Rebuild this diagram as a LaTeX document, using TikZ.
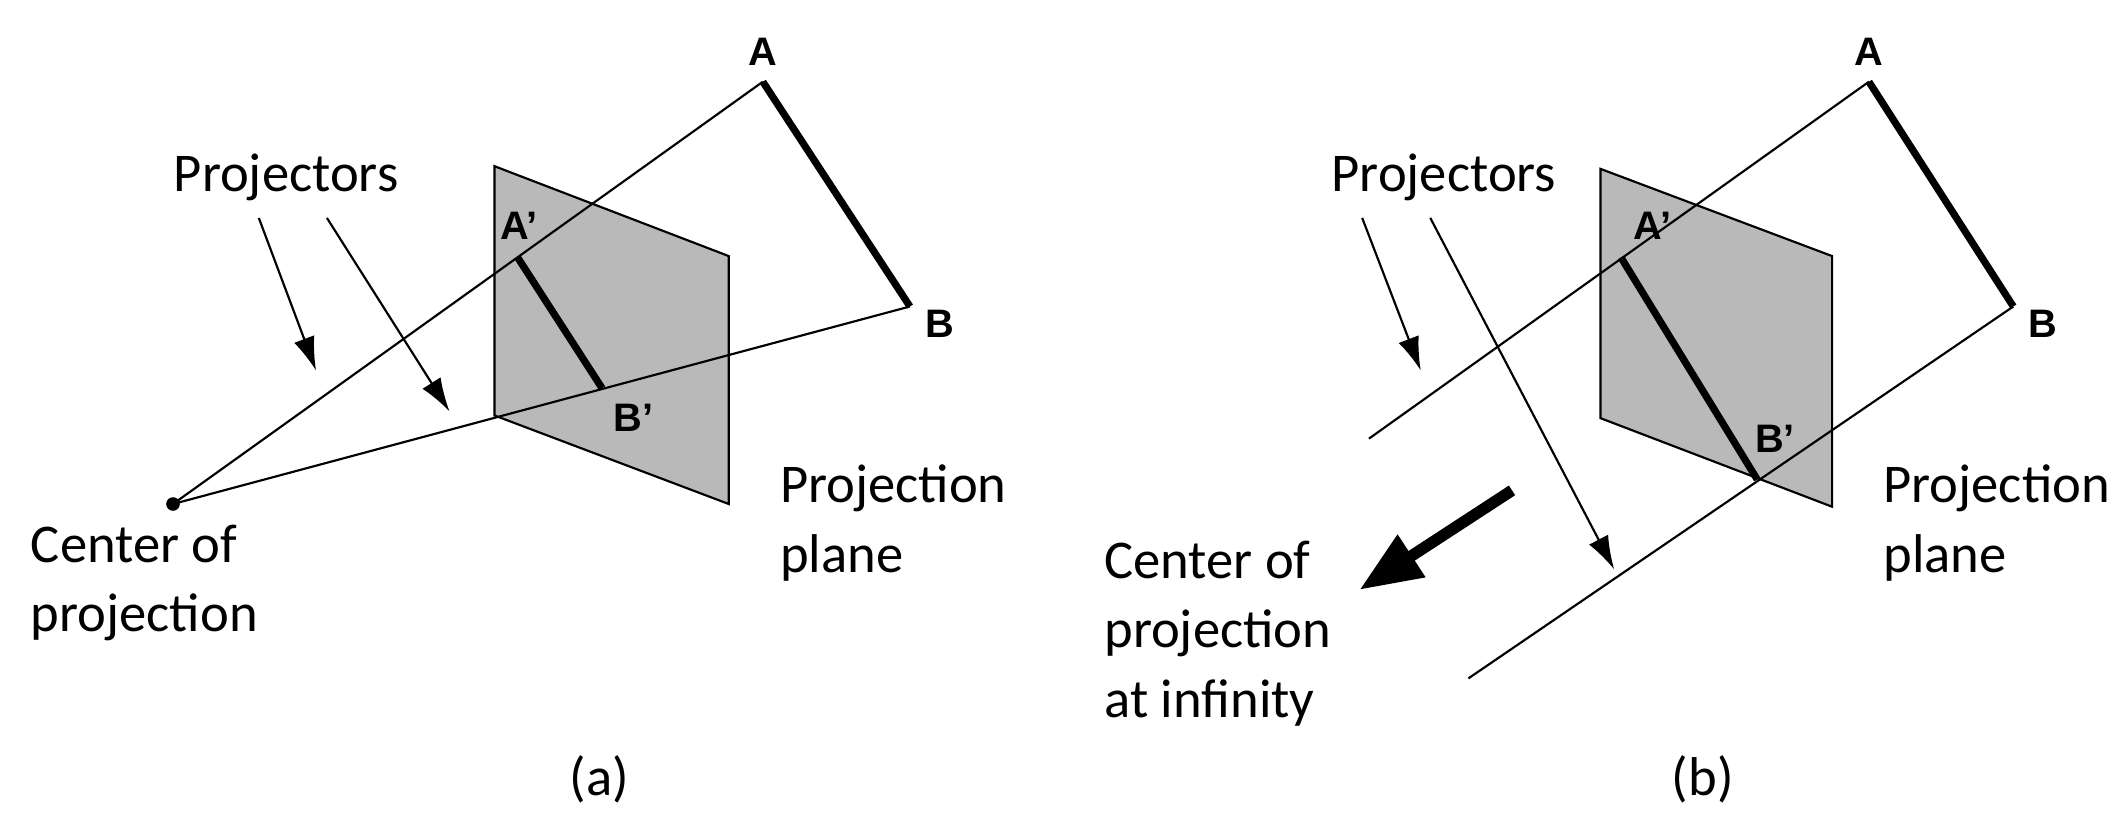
\documentclass[tikz,border=0pt]{standalone}
\usetikzlibrary{arrows.meta}
\usepackage{fontspec}
\setmainfont{Carlito}
\newfontfamily\arialf{Liberation Sans}
\begin{document}
\begin{tikzpicture}[x=0.01cm,y=-0.01cm,
 lbl/.style={font=\fontsize{11.4}{14.5}\selectfont,inner sep=0},
 pt/.style={font=\arialf\bfseries\fontsize{8.3}{9}\selectfont,inner sep=0},
 thin/.style={line width=0.45pt},
 seg/.style={line width=1.5pt},
 arr/.style={thin,-{Latex[length=7pt,width=4.5pt]}}]
\useasboundingbox (0,0) rectangle (1560,600);
% (a)
\fill[gray!55] (363,122) -- (535,188) -- (535,370) -- (363,305) -- cycle;
\draw[thin] (363,122) -- (535,188) -- (535,370) -- (363,305) -- cycle;
\coordinate (C) at (127,370);
\coordinate (A) at (560,60);
\coordinate (B) at (668,225);
\coordinate (Ap) at (380,189);
\coordinate (Bp) at (442,285);
\draw[thin] (C) -- (A);
\draw[thin] (C) -- (B);
\draw[seg] (A) -- (B);
\draw[seg] (Ap) -- (Bp);
\fill (C) circle (5);
\node[pt] (lA) at (560,38) {A};
\node[pt] (lB) at (690,238) {B};
\node[pt] (lAp) at (381,166) {A’};
\node[pt] (lBp) at (465,307) {B’};
\node[lbl] (proj) at (210,130) {Projectors};
\coordinate (p1s) at (190,160); \coordinate (p1e) at (232,272);
\coordinate (p2s) at (240,160); \coordinate (p2e) at (330,302);
\draw[arr] (p1s) -- (p1e);
\draw[arr] (p2s) -- (p2e);
\node[lbl,align=left,anchor=west] (cop) at (22,428) {Center of\\projection};
\node[lbl,align=left,anchor=west] (pp) at (572,384) {Projection\\plane};
\node[lbl] (la) at (440,572) {(a)};
% (b)
\fill[gray!55] (1175,124) -- (1345,188) -- (1345,372) -- (1175,307) -- cycle;
\draw[thin] (1175,124) -- (1345,188) -- (1345,372) -- (1175,307) -- cycle;
\coordinate (A2) at (1372,60);
\coordinate (B2) at (1478,225);
\coordinate (E1) at (1005,322);
\coordinate (E2) at (1078,498);
\coordinate (Ap2) at (1190,189);
\coordinate (Bp2) at (1290,352);
\draw[thin] (A2) -- (E1);
\draw[thin] (B2) -- (E2);
\draw[seg] (A2) -- (B2);
\draw[seg] (Ap2) -- (Bp2);
\node[pt] (lA2) at (1372,38) {A};
\node[pt] (lB2) at (1500,238) {B};
\node[pt] (lAp2) at (1213,166) {A’};
\node[pt] (lBp2) at (1303,322) {B’};
\node[lbl] (proj2) at (1060,130) {Projectors};
\coordinate (q1s) at (1000,160); \coordinate (q1e) at (1043,272);
\coordinate (q2s) at (1050,160); \coordinate (q2e) at (1185,418);
\draw[arr] (q1s) -- (q1e);
\draw[arr] (q2s) -- (q2e);
\coordinate (bs) at (1110,360); \coordinate (be) at (998,433);
\draw[line width=2.4pt,-{Triangle[length=13pt,width=10pt]}] (bs) -- (be);
\node[lbl,align=left,anchor=west] (cop2) at (810,465) {Center of\\projection\\at infinity};
\node[lbl,align=left,anchor=west] (pp2) at (1382,384) {Projection\\plane};
\node[lbl] (lb) at (1250,572) {(b)};
\end{tikzpicture}
\end{document}
